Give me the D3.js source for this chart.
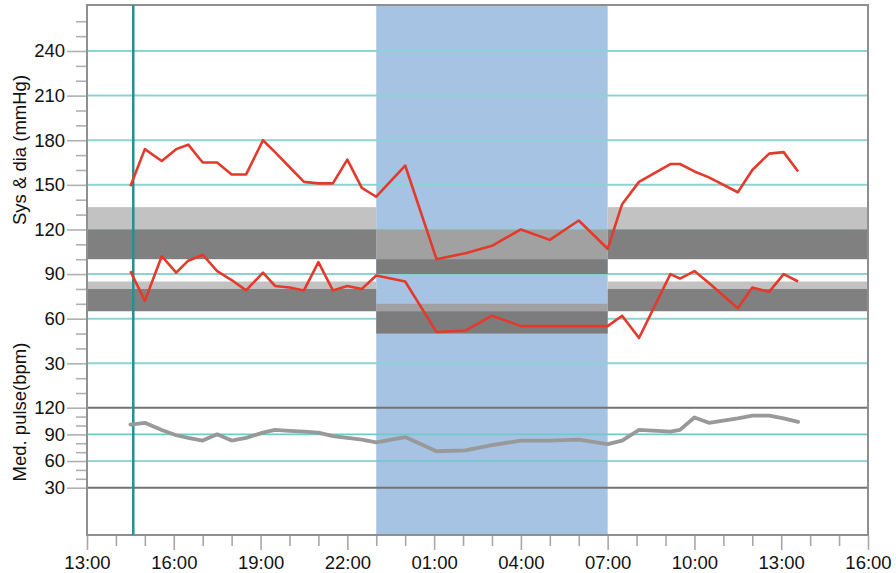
<!DOCTYPE html>
<html>
<head>
<meta charset="utf-8">
<script src="https://cdn.jsdelivr.net/npm/d3@7"></script>
<style>
  html, body { margin: 0; padding: 0; background: #fff; }
  svg { display: block; font-family: "Liberation Sans", Arial, Helvetica, sans-serif; }
</style>
</head>
<body>
<svg id="chart" width="896" height="573"></svg>
<script>
// Ambulatory blood pressure readings (clock time, next day after midnight)
const readTimes = ["14:30","15:00","15:35","16:05","16:30","17:00","17:30","18:00","18:30","19:05",
  "19:30","20:00","20:30","21:00","21:30","22:00","22:30","23:00","00:00","01:05",
  "02:05","03:00","04:00","05:00","06:00","07:00","07:30","08:05","09:10","09:30",
  "10:00","10:30","11:30","12:00","12:35","13:05","13:35"];
const systolic = [149,174,166,174,177,165,165,157,157,180,
  172,162,152,151,151,167,148,142,163,100,
  104,109,120,113,126,107,137,152,164,164,
  159,155,145,160,171,172,159];
const diastolic = [92,72,102,91,99,103,92,86,79,91,
  82,81,79,98,79,82,80,89,85,51,
  52,62,55,55,55,55,62,47,90,87,
  92,84,67,81,78,90,85];
const pulse = [101,103,95,89,86,83,90,83,86,92,
  95,94,93,92,88,86,84,81,87,71,
  72,78,83,83,84,79,83,95,93,95,
  109,103,108,111,111,108,104];

// Axis settings
const bpTicks = [30,60,90,120,150,180,210,240];
const pulseTicks = [30,60,90,120];
const timeLabels = ["13:00","16:00","19:00","22:00","01:00","04:00","07:00","10:00","13:00","16:00"];
const axisStart = "13:00", axisEnd = "16:00";   // spans into the next day
const nightStart = "23:00", nightEnd = "07:00";
const startMarker = "14:36";

// Reference bands [low, high] for day and night
const daySysBands = { upper: [120, 135], normal: [100, 120] };
const dayDiaBands = { upper: [80, 85], normal: [65, 80] };
const nightSysBands = { upper: [100, 120], normal: [90, 100] };
const nightDiaBands = { upper: [65, 70], normal: [50, 65] };

// ---- time helpers ----
function at(hm, day) {
  const [h, m] = hm.split(":").map(Number);
  return new Date(2000, 0, 1 + day, h, m);
}
// sequential times: roll over to the next day when the clock goes backwards
function sequence(list) {
  let day = 0, prev = -1;
  return list.map(s => {
    const [h, m] = s.split(":").map(Number);
    const mins = h * 60 + m;
    if (mins < prev) day++;
    prev = mins;
    return at(s, day);
  });
}
const times = sequence(readTimes);
const t0 = at(axisStart, 0), t1 = at(axisEnd, 1);
const nightA = at(nightStart, 0), nightB = at(nightEnd, 1);
const markerT = at(startMarker, 0);

// ---- layout ----
const svg = d3.select("#chart");
const plotL = 87, plotR = 868, plotT = 5, plotB = 535;

const x = d3.scaleTime().domain([t0, t1]).range([plotL, plotR]);
const yBP = d3.scaleLinear().domain([30, 240]).range([363.3, 51]);
const yPulse = d3.scaleLinear().domain([30, 120]).range([487.7, 407.7]);

const teal = "#8dd3d3";
const colors = {
  night: "#a6c3e4",
  dayUpper: "#c2c2c2", dayNormal: "#808080",
  nightUpper: "#a1a1a1", nightNormal: "#7c7c7c",
  red: "#e43a2b", pulse: "#999999"
};

// night shading
svg.append("rect")
  .attr("x", x(nightA)).attr("y", plotT)
  .attr("width", x(nightB) - x(nightA)).attr("height", plotB - plotT)
  .attr("fill", colors.night);

// grid lines
const grid = svg.append("g");
grid.selectAll("line.bp").data(bpTicks).join("line")
  .attr("x1", plotL).attr("x2", plotR)
  .attr("y1", d => yBP(d)).attr("y2", d => yBP(d))
  .attr("stroke", teal).attr("stroke-width", 2);
grid.selectAll("line.pl").data(pulseTicks.filter(v => v !== 30 && v !== 120)).join("line")
  .attr("x1", plotL).attr("x2", plotR)
  .attr("y1", d => yPulse(d)).attr("y2", d => yPulse(d))
  .attr("stroke", "#6fcaca").attr("stroke-width", 1.6);

// reference bands
function band(ta, tb, range, fill) {
  svg.append("rect")
    .attr("x", x(ta)).attr("width", x(tb) - x(ta))
    .attr("y", yBP(range[1])).attr("height", yBP(range[0]) - yBP(range[1]))
    .attr("fill", fill);
}
[[t0, nightA], [nightB, t1]].forEach(([a, b]) => {
  band(a, b, daySysBands.upper, colors.dayUpper);
  band(a, b, daySysBands.normal, colors.dayNormal);
  band(a, b, dayDiaBands.upper, colors.dayUpper);
  band(a, b, dayDiaBands.normal, colors.dayNormal);
});
band(nightA, nightB, nightSysBands.upper, colors.nightUpper);
band(nightA, nightB, nightSysBands.normal, colors.nightNormal);
band(nightA, nightB, nightDiaBands.upper, colors.nightUpper);
band(nightA, nightB, nightDiaBands.normal, colors.nightNormal);

// pulse panel limits
svg.selectAll("line.plim").data([30, 120]).join("line")
  .attr("x1", plotL).attr("x2", plotR)
  .attr("y1", d => yPulse(d)).attr("y2", d => yPulse(d))
  .attr("stroke", "#737373").attr("stroke-width", 2);

// frame
svg.append("rect")
  .attr("x", plotL).attr("y", plotT)
  .attr("width", plotR - plotL).attr("height", plotB - plotT)
  .attr("fill", "none").attr("stroke", "#8f8f8f").attr("stroke-width", 2);

// measurement start marker
svg.append("line")
  .attr("x1", x(markerT)).attr("x2", x(markerT))
  .attr("y1", plotT).attr("y2", plotB)
  .attr("stroke", "#2b8c97").attr("stroke-width", 2.5);

// series
const lineOf = (scale, vals) => d3.line()
  .x((d, i) => x(times[i]))
  .y(d => scale(d))(vals);

svg.append("path").attr("d", lineOf(yPulse, pulse))
  .attr("fill", "none").attr("stroke", colors.pulse)
  .attr("stroke-width", 3.8).attr("stroke-linejoin", "round").attr("stroke-linecap", "round");
[systolic, diastolic].forEach(vals => {
  svg.append("path").attr("d", lineOf(yBP, vals))
    .attr("fill", "none").attr("stroke", colors.red)
    .attr("stroke-width", 2.6).attr("stroke-linejoin", "round");
});

// ---- axes ----
function styleAxis(g, color) {
  g.select(".domain").remove();
  g.selectAll(".tick line").attr("stroke", color).attr("stroke-width", 1.6);
  g.selectAll(".tick text").attr("fill", "#111").attr("font-size", 18.5)
    .attr("font-family", "\"Liberation Sans\", Arial, sans-serif");
}
const bpMinor = d3.range(10, 261, 10).filter(v => !bpTicks.includes(v));
const pulseMinor = d3.range(40, 111, 10).filter(v => !pulseTicks.includes(v));

svg.append("g").attr("transform", `translate(${plotL - 1},0)`)
  .call(d3.axisLeft(yBP).tickValues(bpMinor).tickSize(10).tickFormat(""))
  .call(g => styleAxis(g, "#b0b0b0"));
svg.append("g").attr("transform", `translate(${plotL - 1},0)`)
  .call(d3.axisLeft(yBP).tickValues(bpTicks).tickSize(19).tickPadding(2))
  .call(g => styleAxis(g, "#b0b0b0"));
svg.append("g").attr("transform", `translate(${plotL - 1},0)`)
  .call(d3.axisLeft(yPulse).tickValues(pulseMinor).tickSize(10).tickFormat(""))
  .call(g => styleAxis(g, "#b0b0b0"));
svg.append("g").attr("transform", `translate(${plotL - 1},0)`)
  .call(d3.axisLeft(yPulse).tickValues(pulseTicks).tickSize(19).tickPadding(2))
  .call(g => styleAxis(g, "#b0b0b0"));

// hourly ticks, labelled every three hours
const hourTicks = d3.timeHour.range(t0, d3.timeHour.offset(t1, 1));
const labelled = hourTicks.filter((d, i) => i % 3 === 0);
svg.append("g").attr("transform", `translate(0,${plotB + 1})`)
  .call(d3.axisBottom(x).tickValues(hourTicks.filter((d, i) => i % 3 !== 0)).tickSize(10).tickFormat(""))
  .call(g => styleAxis(g, "#a8a8a8"));
svg.append("g").attr("transform", `translate(0,${plotB + 1})`)
  .call(d3.axisBottom(x).tickValues(labelled).tickSize(14).tickPadding(6)
    .tickFormat((d, i) => timeLabels[i]))
  .call(g => styleAxis(g, "#a8a8a8"));

// axis titles
svg.append("text")
  .attr("transform", "translate(19,150) rotate(-90)")
  .attr("text-anchor", "middle").attr("dominant-baseline", "central")
  .attr("font-size", 18.5).attr("fill", "#111")
  .text("Sys & dia (mmHg)");
svg.append("text")
  .attr("transform", "translate(19,412) rotate(-90)")
  .attr("text-anchor", "middle").attr("dominant-baseline", "central")
  .attr("font-size", 18.5).attr("fill", "#111")
  .text("Med. pulse(bpm)");
</script>
</body>
</html>
